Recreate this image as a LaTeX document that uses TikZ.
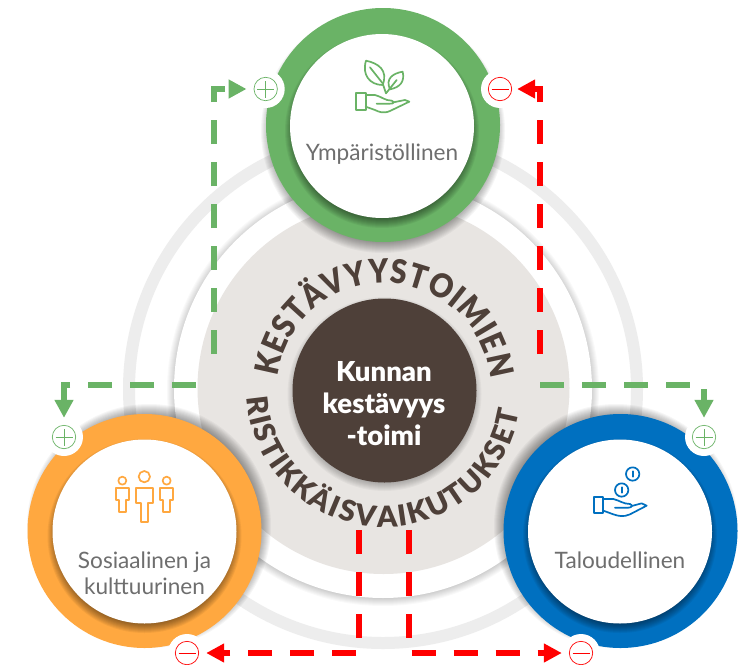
\documentclass[tikz,border=0pt]{standalone}
\usepackage{fontspec}
\setmainfont{Lato}
\newfontfamily\heavyfont{Lato Black}
\newfontfamily\heavynarrow[FakeStretch=0.9]{Lato Black}
\usetikzlibrary{arrows.meta,decorations.text}
\definecolor{cgreen}{HTML}{6AB366}
\definecolor{corange}{HTML}{FFA840}
\definecolor{cblue}{HTML}{0070C0}
\definecolor{cbeige}{HTML}{E8E5E2}
\definecolor{cbrown}{HTML}{4E4039}
\definecolor{cring}{HTML}{EDEDED}
\definecolor{ctext}{HTML}{6E6E6E}
\newcommand{\softshadow}[4]{% x y r alpha
  \foreach \k in {0,...,11}{\fill[black,opacity=#4] (#1,#2) circle[radius=#3-6+\k];}}
\tikzset{
  badge/.style={circle,fill=white,minimum size=38pt,inner sep=0pt},
  flow/.style={line width=6pt,dash pattern=on 24pt off 18pt,-{Triangle[width=18pt,length=18pt]}},
  greenflow/.style={flow,draw=cgreen,color=cgreen},
  redflow/.style={flow,draw=red,color=red},
  label/.style={font=\fontsize{22.6}{26}\selectfont,text=ctext,align=center},
  icon/.style={line width=1.7pt,line join=round,line cap=round},
  signring/.style={line width=.7pt}
}
\begin{document}
\begin{tikzpicture}[x=1pt,y=-1pt]
\useasboundingbox (0,0) rectangle (752,664);
\clip (0,0) rectangle (752,664);
\fill[white] (0,0) rectangle (752,664);
% rings
\fill[cring,even odd rule] (383,389) circle[radius=260] (383,389) circle[radius=248];
\softshadow{383}{390}{211}{0.022}
\fill[white] (383,389) circle[radius=209];
\fill[cbeige] (383.5,388) circle[radius=186];
% centre
\softshadow{384.5}{394}{92}{0.03}
\node[circle,fill=cbrown,minimum size=184pt,inner sep=0pt] (hub) at (384.5,390.5) {};
\node[font=\fontsize{27.5}{32}\heavyfont,text=white,align=center] (hubtext) at (384,404) {Kunnan\\kestävyys\\-toimi};
% circular text
\begin{scope}[shift={(384,390)},y=1pt]
\path[decoration={text along path,text format delimiters={|}{|},
  text={|\fontsize{33}{33}\heavynarrow\color{cbrown}|KESTÄVYYSTOIMIEN},
  text align={fit to path}},decorate] (173:107) arc[start angle=173,end angle=6,radius=107];
\path[decoration={text along path,text format delimiters={|}{|},
  text={|\fontsize{29}{29}\heavyfont\color{cbrown}|RISTIKKÄISVAIKUTUKSET},
  text align={fit to path}},decorate] (183:137) arc[start angle=183,end angle=351,radius=137];
\end{scope}
% green
\softshadow{383}{131}{117}{0.035}
\fill[cgreen] (383,125) circle[radius=117];
\softshadow{382}{131}{92}{0.05}
\node[circle,fill=white,minimum size=184pt,inner sep=0pt] (env) at (382,126) {};
% orange
\softshadow{149}{526}{117}{0.035}
\fill[corange] (144.5,531) circle[radius=117];
\softshadow{144.5}{536}{92}{0.05}
\node[circle,fill=white,minimum size=184pt,inner sep=0pt] (soc) at (144.5,531.5) {};
% blue
\softshadow{616}{526}{117}{0.035}
\fill[cblue] (620.5,531) circle[radius=117];
\softshadow{620}{536}{92}{0.05}
\node[circle,fill=white,minimum size=184pt,inner sep=0pt] (eco) at (620,531.5) {};
% labels
\node[label,anchor=base] (envl) at (382,160) {Ympäristöllinen};
\node[label,anchor=base] (socl1) at (144.5,568) {Sosiaalinen ja};
\node[label,anchor=base] (socl2) at (144.5,594) {kulttuurinen};
\node[label,anchor=base] (ecol) at (620,568) {Taloudellinen};
% badges
\node[badge] (gp) at (265.7,89) {};
\node[badge] (gm) at (500,89) {};
\node[badge] (op) at (64,437) {};
\node[badge] (om) at (187,653) {};
\node[badge] (bp) at (704,437) {};
\node[badge] (bm) at (581,653) {};
\foreach \n in {gp,op,bp}{
  \draw[signring,cgreen] (\n) circle[radius=11.7];
  \draw[signring,cgreen] ([xshift=-8.5pt]\n.center) -- ([xshift=8.5pt]\n.center) ([yshift=-8.5pt]\n.center) -- ([yshift=8.5pt]\n.center);
}
\foreach \n in {gm,om,bm}{
  \draw[signring,red] (\n) circle[radius=11.7];
  \draw[signring,red] ([xshift=-8.5pt]\n.center) -- ([xshift=8.5pt]\n.center);
}
% connectors
\coordinate (s1) at (214,354);
\coordinate (s2) at (540,354);
\coordinate (s3) at (196,385);
\coordinate (s4) at (540,385);
\coordinate (s5) at (359,530);
\coordinate (s6) at (408.7,530);
\draw[greenflow] (s1) |- (gp);
\draw[redflow,shorten >=-2pt] (s2) |- (gm);
\draw[greenflow] (s3) -| (op);
\draw[greenflow] (s4) -| (bp);
\draw[redflow] (s5) |- (om);
\draw[redflow] (s6) |- (bm);
% plant icon
\begin{scope}[shift={(340,50)},x=.3333pt,y=-.3333pt,icon,draw=cgreen]
\draw (78,32) .. controls (115,40) and (145,60) .. (128,105) .. controls (90,105) and (65,75) .. (78,32);
\draw (90,52) -- (128,100) -- (138,130) -- (170,90);
\draw (188,65) .. controls (160,70) and (135,85) .. (150,118) .. controls (180,112) and (195,95) .. (188,65);
\draw (47,130) rectangle (77,180);
\draw (77,135) -- (105,135) .. controls (125,140) and (135,152) .. (155,152) .. controls (165,156) and (160,162) .. (150,161) -- (110,161);
\draw (160,157) -- (195,150) -- (208,155) -- (150,183) .. controls (130,192) and (115,185) .. (105,180) -- (77,170);
\end{scope}
% people icon
\begin{scope}[shift={(100,460)},x=.3333pt,y=-.3333pt,icon,draw=corange]
\draw (133,50) circle[radius=17];
\draw (67,62) circle[radius=12];
\draw (200,62) circle[radius=12];
\draw (107,85) -- (160,85) -- (160,130) -- (145,130) -- (145,185) -- (122,185) -- (122,130) -- (107,130) -- cycle;
\draw (47,85) -- (88,85) -- (88,120) -- (78,120) -- (78,155) -- (57,155) -- (57,120) -- (47,120) -- cycle;
\draw (180,85) -- (220,85) -- (220,120) -- (210,120) -- (210,155) -- (190,155) -- (190,120) -- (180,120) -- cycle;
\end{scope}
% money icon
\begin{scope}[shift={(585,460)},x=.3333pt,y=-.3333pt,icon,draw=cblue]
\draw (143,42) circle[radius=20];
\draw (110,90) circle[radius=20];
\draw (143,34) -- (143,50);
\draw (110,82) -- (110,98);
\draw (28,112) rectangle (55,158);
\draw (55,117) -- (85,117) .. controls (105,122) and (115,132) .. (135,132) .. controls (145,136) and (140,143) .. (130,143) -- (90,143);
\draw (140,138) -- (170,130) -- (185,137) -- (135,163) .. controls (115,172) and (100,168) .. (85,163) -- (55,152);
\end{scope}
\end{tikzpicture}
\end{document}
